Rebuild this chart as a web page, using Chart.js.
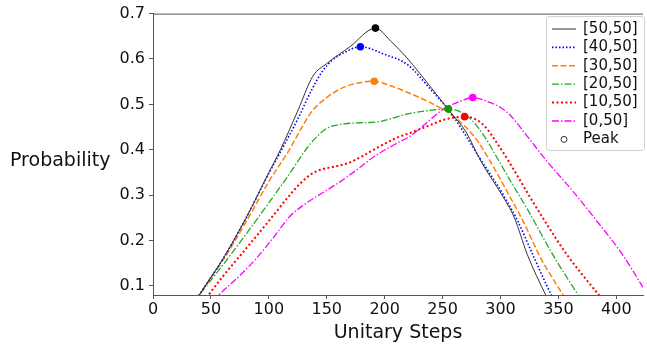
<!DOCTYPE html>
<html>
<head>
<meta charset="utf-8">
<script src="https://cdn.jsdelivr.net/npm/chart.js@4.4.1/dist/chart.umd.min.js"></script>
<style>
  html, body { margin: 0; padding: 0; background: #fff; }
  #wrap { position: relative; width: 647px; height: 347px; }
</style>
</head>
<body>
<div id="wrap"><canvas id="chart" width="647" height="347"></canvas></div>
<script>
// values
const seriesLabels = ["[50,50]", "[40,50]", "[30,50]", "[20,50]", "[10,50]", "[0,50]"];

const steps50 = [35, 40, 60, 80, 100, 110, 125, 138, 150, 170, 192, 205, 220, 236, 256, 270, 283, 303, 312, 323, 339, 345];
const prob50 = [0.058, 0.08, 0.158, 0.248, 0.35, 0.4, 0.486, 0.562, 0.59, 0.627, 0.668, 0.64, 0.6, 0.55, 0.485, 0.44, 0.375, 0.293, 0.25, 0.17, 0.08, 0.05];

const steps40 = [35, 40, 60, 80, 100, 110, 125, 137, 146, 155, 165, 179, 200, 220, 240, 256, 283, 303, 315, 328, 344, 350];
const prob40 = [0.058, 0.08, 0.158, 0.248, 0.348, 0.395, 0.468, 0.532, 0.572, 0.598, 0.614, 0.627, 0.61, 0.587, 0.532, 0.485, 0.378, 0.298, 0.242, 0.168, 0.08, 0.055];

const steps30 = [35, 40, 50, 60, 70, 85, 100, 117, 128, 137, 151, 166, 191, 205, 222, 243, 256, 277, 291, 308, 320, 335, 354, 360];
const prob30 = [0.058, 0.08, 0.118, 0.155, 0.196, 0.262, 0.33, 0.397, 0.447, 0.484, 0.517, 0.539, 0.551, 0.541, 0.524, 0.499, 0.48, 0.43, 0.375, 0.297, 0.24, 0.16, 0.08, 0.055];

const steps20 = [35, 40, 60, 80, 100, 120, 131, 140, 150, 165, 195, 210, 222, 240, 255, 268, 276, 286, 298, 310, 323, 335, 346, 367, 372];
const prob20 = [0.062, 0.08, 0.145, 0.213, 0.283, 0.355, 0.397, 0.425, 0.447, 0.457, 0.462, 0.472, 0.48, 0.487, 0.49, 0.48, 0.463, 0.43, 0.378, 0.325, 0.27, 0.215, 0.165, 0.08, 0.06];

const steps10 = [44, 48, 60, 75, 90, 105, 118, 128, 137, 146, 157, 169, 180, 194, 211, 222, 240, 251, 269, 280, 287, 294, 307, 314, 328, 340, 357, 385, 390];
const prob10 = [0.065, 0.08, 0.12, 0.166, 0.212, 0.259, 0.3, 0.328, 0.347, 0.357, 0.363, 0.371, 0.385, 0.405, 0.427, 0.437, 0.455, 0.466, 0.473, 0.465, 0.45, 0.426, 0.375, 0.345, 0.285, 0.236, 0.17, 0.08, 0.065];

const steps0 = [52, 57, 75, 90, 105, 118, 131, 145, 160, 175, 191, 211, 222, 235, 251, 265, 276, 290, 300, 308, 323, 340, 362, 385, 405, 423];
const prob0 = [0.065, 0.08, 0.123, 0.163, 0.21, 0.253, 0.28, 0.303, 0.327, 0.354, 0.385, 0.415, 0.43, 0.457, 0.49, 0.507, 0.515, 0.505, 0.493, 0.477, 0.43, 0.375, 0.31, 0.237, 0.17, 0.097];

const peakSteps = [192, 179, 191, 255, 269, 276];
const peakProb = [0.668, 0.627, 0.551, 0.49, 0.473, 0.515];

const xTicks = [0, 50, 100, 150, 200, 250, 300, 350, 400];
const yTicks = [0.1, 0.2, 0.3, 0.4, 0.5, 0.6, 0.7];

const allSteps = [steps50, steps40, steps30, steps20, steps10, steps0];
const allProb = [prob50, prob40, prob30, prob20, prob10, prob0];

const lineColors = ["#333333", "#0000ff", "#ff7f0e", "#22aa22", "#ff0000", "#ff00ff"];
const peakColors = ["#000000", "#0000ff", "#ff7f0e", "#0a9a0a", "#ff0000", "#ff00ff"];
const lineWidths = [1, 1.6, 1.5, 1.3, 2, 1.3];
const lineDashes = [[], [1.5, 2], [6, 2.5], [7, 2, 1.5, 2], [2, 2.5], [7, 2, 1.5, 2]];

const FONT = "'DejaVu Sans', Verdana, sans-serif";
const AXIS = "#555555";

const datasets = seriesLabels.map((lab, i) => ({
  label: lab,
  data: allSteps[i].map((s, j) => ({ x: s, y: allProb[i][j] })),
  borderColor: lineColors[i],
  borderWidth: lineWidths[i],
  borderDash: lineDashes[i],
  pointRadius: 0,
  fill: false,
  cubicInterpolationMode: "monotone",
  order: 1,
}));

datasets.push({
  label: "Peak",
  data: peakSteps.map((s, j) => ({ x: s, y: peakProb[j] })),
  showLine: false,
  pointRadius: 3.8,
  pointBackgroundColor: peakColors,
  pointBorderWidth: 0,
  order: 0,
});

// matplotlib-like extras: top spine, horizontal y title, boxed legend
const extras = {
  id: "extras",
  afterDraw(chart) {
    const { ctx, chartArea } = chart;
    ctx.save();
    ctx.strokeStyle = AXIS;
    ctx.lineWidth = 1;
    ctx.beginPath();
    ctx.moveTo(chartArea.left, chartArea.top + 0.5);
    ctx.lineTo(chartArea.right, chartArea.top + 0.5);
    ctx.stroke();

    ctx.fillStyle = "#111";
    ctx.font = "19px " + FONT;
    ctx.textBaseline = "middle";
    ctx.textAlign = "left";
    ctx.fillText("Probability", 10, 161);

    // legend
    const bx = 546, by = 16, bw = 98, bh = 134;
    ctx.fillStyle = "rgba(255,255,255,0.85)";
    ctx.strokeStyle = "#d0d0d0";
    ctx.lineWidth = 1;
    ctx.beginPath();
    ctx.roundRect(bx + 0.5, by + 0.5, bw, bh, 3);
    ctx.fill();
    ctx.stroke();

    ctx.font = "15px " + FONT;
    const rowH = 18.4;
    chart.data.datasets.forEach((ds, i) => {
      const cy = by + 13 + i * rowH;
      if (ds.showLine === false) {
        ctx.setLineDash([]);
        ctx.strokeStyle = "#333";
        ctx.lineWidth = 1;
        ctx.fillStyle = "#fff";
        ctx.beginPath();
        ctx.arc(564, cy, 3, 0, Math.PI * 2);
        ctx.fill();
        ctx.stroke();
      } else {
        ctx.setLineDash(ds.borderDash);
        ctx.strokeStyle = ds.borderColor;
        ctx.lineWidth = ds.borderWidth;
        ctx.beginPath();
        ctx.moveTo(552, cy);
        ctx.lineTo(576, cy);
        ctx.stroke();
      }
      ctx.setLineDash([]);
      ctx.fillStyle = "#111";
      ctx.fillText(ds.label, 583, cy);
    });
    ctx.restore();
  },
};

new Chart(document.getElementById("chart"), {
  type: "line",
  data: { datasets: datasets },
  plugins: [extras],
  options: {
    responsive: false,
    animation: false,
    devicePixelRatio: 1,
    layout: { padding: { top: 11, right: 0, bottom: 0, left: 0 } },
    plugins: { legend: { display: false }, tooltip: { enabled: false } },
    scales: {
      x: {
        type: "linear",
        min: 0,
        max: 423,
        afterBuildTicks: (s) => { s.ticks = xTicks.map((v) => ({ value: v })); },
        afterFit: (s) => { s.height = 52; },
        ticks: { font: { family: FONT, size: 16 }, color: "#111", padding: 1, maxRotation: 0 },
        grid: { drawOnChartArea: false, tickLength: 4, color: AXIS },
        border: { color: AXIS, width: 1 },
        title: { display: true, text: "Unitary Steps", font: { family: FONT, size: 19 }, color: "#111", padding: { top: 6, bottom: 3 } },
      },
      y: {
        type: "linear",
        min: 0.08,
        max: 0.7,
        afterBuildTicks: (s) => { s.ticks = yTicks.map((v) => ({ value: v })); },
        afterFit: (s) => { s.width = 153; },
        ticks: { font: { family: FONT, size: 16 }, color: "#111", padding: 4, callback: (v) => v.toFixed(1) },
        grid: { drawOnChartArea: false, tickLength: 4, color: AXIS },
        border: { color: AXIS, width: 1 },
      },
    },
  },
});
</script>
</body>
</html>
